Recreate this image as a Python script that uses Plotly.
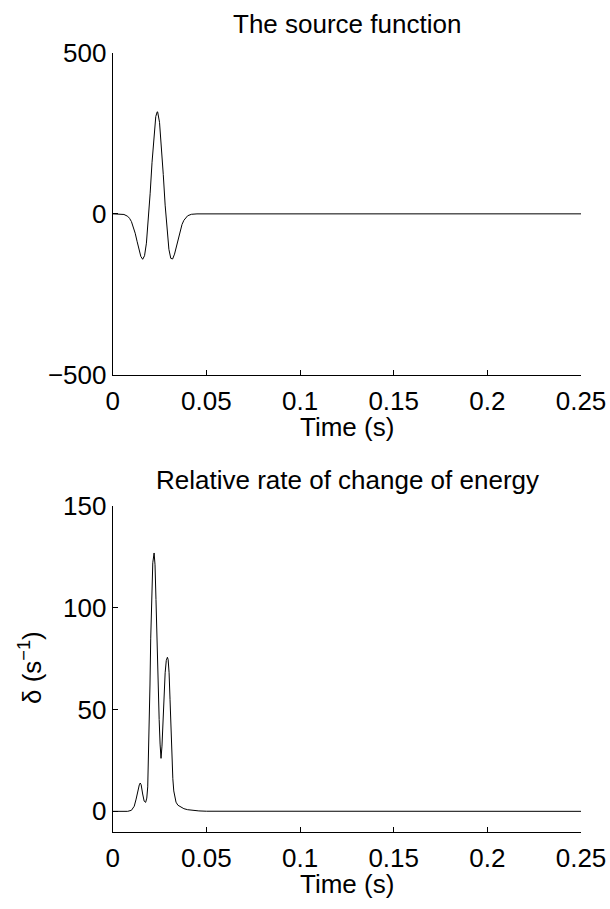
import plotly.graph_objects as go

# Source function
t_src = [0, 0.004, 0.006, 0.008, 0.009, 0.010, 0.011, 0.012, 0.013, 0.014, 0.015,
         0.016, 0.017, 0.018, 0.019, 0.020, 0.021, 0.022, 0.023, 0.0238, 0.024,
         0.025, 0.026, 0.027, 0.028, 0.029, 0.030, 0.031, 0.032, 0.033, 0.034,
         0.035, 0.036, 0.037, 0.038, 0.039, 0.040, 0.042, 0.045, 0.25]
v_src = [0, -0.4, -1.9, -7.6, -14, -24, -39, -60, -85, -111, -132,
         -141, -130, -91, -25, 64, 160, 246, 302, 317, 316,
         284, 214, 122, 27, -54, -110, -138, -140, -125, -101,
         -75, -51, -33, -20, -11, -6, -1.4, -0.1, 0]

# Relative rate of change of energy
t_e = [0, 0.008, 0.010, 0.0115, 0.0125, 0.0135, 0.0142, 0.0147, 0.0152, 0.0160,
       0.0168, 0.0176, 0.0182, 0.0187, 0.0191, 0.0195, 0.0199, 0.0203, 0.0208,
       0.0214, 0.0221, 0.0226, 0.0231, 0.0236, 0.0242, 0.0248, 0.0253, 0.0258,
       0.0263, 0.0268, 0.0274, 0.0280, 0.0286, 0.0292, 0.0296, 0.0301, 0.0306,
       0.0311, 0.0316, 0.0321, 0.0326, 0.0331, 0.0338, 0.0348, 0.036, 0.038,
       0.040, 0.043, 0.046, 0.050, 0.25]
v_e = [0, 0, 0.5, 2.5, 6, 10.5, 13, 13.9, 13, 8.5,
       5, 4.4, 6.5, 12, 25, 42, 62, 85, 108,
       122, 126.8, 121, 104, 84, 62, 45, 33, 26,
       32, 44, 57, 68, 74, 75.6, 74.5, 68, 55,
       40, 26, 16, 10, 7, 4.5, 3, 2.2, 1.3,
       0.8, 0.4, 0.2, 0.05, 0]

x_ticks = [0, 0.05, 0.1, 0.15, 0.2, 0.25]
x_ticklabels = ["0", "0.05", "0.1", "0.15", "0.2", "0.25"]
y1_ticks = [-500, 0, 500]
y1_ticklabels = ["\u2212500", "0", "500"]
y2_ticks = [0, 50, 100, 150]

W, H = 610, 909
FONT = "Liberation Sans, Arial, sans-serif"
FS = 26

def fx(px):
    return px / W

def fy(py):
    return 1 - py / H

fig = go.Figure()
fig.add_trace(go.Scatter(x=t_src, y=v_src, mode="lines",
                         line=dict(color="black", width=1), xaxis="x", yaxis="y"))
fig.add_trace(go.Scatter(x=t_e, y=v_e, mode="lines",
                         line=dict(color="black", width=1), xaxis="x2", yaxis="y2"))

axcommon = dict(showline=True, linecolor="black", linewidth=1, ticks="inside",
                ticklen=5, tickcolor="black", showgrid=False, zeroline=False,
                automargin=False,
                tickfont=dict(family=FONT, size=FS, color="black"), mirror=False)

xd = [fx(112.7), fx(581)]
fig.update_layout(
    width=W, height=H, margin=dict(l=0, r=0, t=0, b=0, pad=0), autosize=False,
    paper_bgcolor="white", plot_bgcolor="white", showlegend=False,
    xaxis=dict(domain=xd, range=[0, 0.25], tickvals=x_ticks, ticktext=x_ticklabels,
               anchor="y", ticklabelstandoff=3, **axcommon),
    yaxis=dict(domain=[fy(375), fy(52.7)], range=[-500, 500], tickvals=y1_ticks,
               ticktext=y1_ticklabels, anchor="x", **axcommon),
    xaxis2=dict(domain=xd, range=[0, 0.25], tickvals=x_ticks, ticktext=x_ticklabels,
                anchor="y2", ticklabelstandoff=3, **axcommon),
    yaxis2=dict(domain=[fy(831.7), fy(505.7)], range=[-10, 150], tickvals=y2_ticks,
                anchor="x2", **axcommon),
)

def ann(text, x, y, angle=0):
    fig.add_annotation(text=text, x=fx(x), y=fy(y), xref="paper", yref="paper",
                       showarrow=False, textangle=angle, xanchor="center", yanchor="middle",
                       font=dict(family=FONT, size=FS, color="black"))

ann("The source function", 347, 24)
ann("Time (s)", 347, 427)
ann("Relative rate of change of energy", 347, 480)
ann("Time (s)", 347, 884)
ann("\u03b4 (s<sup>\u22121</sup>)", 30, 668, angle=-90)

fig.write_html("out.html")
